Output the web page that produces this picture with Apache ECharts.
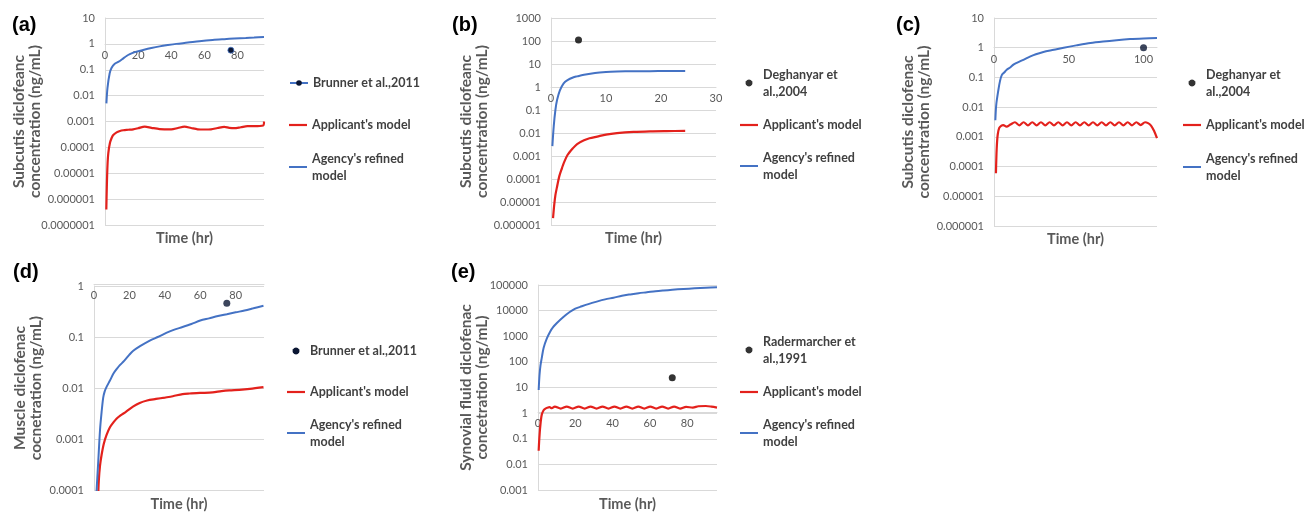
<!DOCTYPE html>
<html><head><meta charset="utf-8">
<script src="https://cdn.jsdelivr.net/npm/echarts@6/dist/echarts.min.js"></script>
<style>html,body{margin:0;padding:0;background:#fff}#c{width:1305px;height:513px}</style>
</head><body><div id="c"></div>
<script>
// ---------- DATA ([time hr, concentration ng/mL]) ----------
const aAgency = [[0.85,0.005],[1.5,0.02],[2.8,0.072],[4,0.12],[5.9,0.17],[8,0.2],[10.9,0.27],[13,0.34],[15,0.4],[18,0.48],[23,0.58],[28,0.69],[33,0.8],[38,0.9],[43,1.0],[50,1.12],[57,1.27],[65,1.42],[72,1.52],[78,1.6],[85,1.68],[90,1.75],[96,1.85]];
const aApplicant = [[0.8,4e-7],[1.1,3e-6],[1.5,2e-5],[2,6e-5],[3,0.00015],[4,0.00023],[5,0.0003],[7,0.00038],[9,0.00043],[11,0.00046],[14,0.00048],[17,0.0005],[20,0.00055],[24,0.00063],[28,0.00057],[33,0.00051],[40,0.0005],[44,0.00056],[48,0.00063],[52,0.00056],[56,0.0005],[60,0.00049],[64,0.0005],[68,0.00056],[72,0.00062],[75,0.00057],[78,0.00055],[82,0.0006],[86,0.00066],[90,0.00066],[95.5,0.0007],[96,0.001]];
const aBrunner = [[76,0.57]];

const bAgency = [[0.25,0.0027],[0.5,0.02],[0.8,0.1],[1.1,0.27],[1.6,0.7],[2.3,1.45],[3,2.0],[4,2.6],[4.75,2.9],[6,3.4],[8,4.1],[10,4.5],[12,4.7],[15,4.85],[18,4.9],[21,4.95],[24.4,4.95]];
const bApplicant = [[0.37,2e-6],[0.6,8e-6],[0.8,2e-5],[1.1,4.6e-5],[1.5,1.3e-4],[2,3e-4],[2.3,4.8e-4],[3,1.1e-3],[4,2.2e-3],[4.75,3.3e-3],[6,4.8e-3],[7,5.9e-3],[8.4,7e-3],[10,8.5e-3],[12,0.0098],[15,0.0111],[18,0.0118],[21,0.0121],[24.4,0.0123]];
const bDeghanyar = [[5,110]];

const cAgency = [[0.9,0.0036],[1.5,0.012],[2.9,0.037],[4,0.075],[5.2,0.12],[7,0.15],[8.5,0.18],[11,0.22],[13,0.27],[15.2,0.31],[20,0.4],[24,0.5],[28,0.6],[33,0.72],[40,0.85],[46.6,1.0],[55,1.2],[64.5,1.45],[73,1.63],[82,1.8],[91,1.95],[100,2.05],[109,2.12]];
const cApplicant = [[1.3,6e-5],[1.8,4e-4],[2.5,1.2e-3],[3.5,2e-3],[5,2.4e-3],[6.2,2.5e-3],[8.4,2.2e-3],[11,2.6e-3],[14,3.1e-3],[16.9,2.45e-3],[19.8,3.1e-3],[22.7,2.45e-3],[25.6,3.1e-3],[28.5,2.45e-3],[31.4,3.1e-3],[34.3,2.45e-3],[37.2,3.1e-3],[40.1,2.45e-3],[43,3.1e-3],[45.9,2.45e-3],[48.8,3.1e-3],[51.7,2.45e-3],[54.6,3.1e-3],[57.5,2.45e-3],[60.4,3.1e-3],[63.3,2.45e-3],[66.2,3.1e-3],[69.1,2.45e-3],[72,3.1e-3],[74.9,2.45e-3],[77.8,3.1e-3],[80.7,2.45e-3],[83.6,3.1e-3],[86.5,2.45e-3],[89.4,3.1e-3],[92.3,2.45e-3],[95.2,3.1e-3],[98.1,2.5e-3],[101,3.1e-3],[103,2.9e-3],[105,2.4e-3],[107,1.6e-3],[109,9e-4]];
const cDeghanyar = [[100,1.0]];

const dAgency = [[1.0,5e-5],[1.6,1.2e-4],[2.4,3.6e-4],[3.4,0.0015],[4.3,0.0034],[5.2,0.0065],[6,0.0085],[7.1,0.0105],[9,0.014],[10.9,0.019],[13,0.024],[14.6,0.028],[17,0.034],[20,0.045],[22,0.053],[26,0.066],[31.5,0.085],[36,0.1],[40.8,0.12],[45,0.138],[50,0.157],[55,0.18],[60,0.21],[65,0.232],[70,0.257],[75,0.28],[80,0.305],[85,0.33],[90,0.365],[95.7,0.41]];
const dApplicant = [[2.2,5e-5],[2.7,1.5e-4],[3.4,3e-4],[4.3,4.9e-4],[5.5,8e-4],[7.1,1.2e-3],[9,1.7e-3],[10.9,2.1e-3],[12.7,2.5e-3],[15,2.9e-3],[18,3.4e-3],[22,4.3e-3],[25.8,5.1e-3],[30,5.7e-3],[35,6.1e-3],[40,6.5e-3],[44.5,6.9e-3],[50,7.6e-3],[54,7.8e-3],[60,8.0e-3],[67,8.2e-3],[72,8.7e-3],[76.4,9.0e-3],[82,9.2e-3],[88,9.6e-3],[95.7,0.0104]];
const dBrunner = [[75,0.46]];

const eAgency = [[0.36,8],[0.8,30],[1.3,70],[2,140],[3,350],[4.7,800],[6.5,1500],[8.2,2300],[10,3200],[13.6,5600],[17,8800],[20,12000],[22.6,14000],[27,18000],[31.5,22500],[36,27500],[40.5,32000],[45,38000],[49.5,43000],[54,48000],[58.4,52000],[63,57000],[67.4,61000],[72,65000],[78,70000],[84,74000],[90,78000],[96,82000]];
const eApplicant = [[0.36,0.034],[0.7,0.1],[1.2,0.3],[2,0.86],[3,1.3],[4,1.5],[5,1.62],[6.2,1.7],[7.4,1.55],[9,1.8],[12.2,1.5],[15.4,1.8],[18.6,1.5],[21.8,1.8],[25,1.5],[28.2,1.8],[31.4,1.5],[34.6,1.8],[37.8,1.5],[41,1.8],[44.2,1.5],[47.4,1.8],[50.6,1.5],[53.8,1.8],[57,1.5],[60.2,1.8],[63.4,1.5],[66.6,1.8],[69.8,1.5],[73,1.8],[76.2,1.5],[79.4,1.75],[83,1.65],[86,1.85],[90,1.9],[93,1.8],[96,1.65]];
const eRadermarcher = [[72,24]];

// ---------- TICK LABELS ----------
const aYTicks = ['0.0000001','0.000001','0.00001','0.0001','0.001','0.01','0.1','1','10'];
const bYTicks = ['0.000001','0.00001','0.0001','0.001','0.01','0.1','1','10','100','1000'];
const cYTicks = ['0.000001','0.00001','0.0001','0.001','0.01','0.1','1','10'];
const dYTicks = ['0.0001','0.001','0.01','0.1','1'];
const eYTicks = ['0.001','0.01','0.1','1','10','100','1000','10000','100000'];

// ---------- NAMES ----------
const N_AGENCY = "Agency's refined model";
const N_APPLICANT = "Applicant's model";
const N_BRUNNER = 'Brunner et al.,2011';
const N_DEGH = 'Deghanyar et al.,2004';
const N_RADER = 'Radermarcher et al.,1991';
const legendText = {};
legendText[N_AGENCY] = "Agency's refined\nmodel";
legendText[N_APPLICANT] = "Applicant's model";
legendText[N_BRUNNER] = 'Brunner et al.,2011';
legendText[N_DEGH] = 'Deghanyar et\nal.,2004';
legendText[N_RADER] = 'Radermarcher et\nal.,1991';

// ---------- STYLE ----------
const FONT = 'Lato, "Open Sans", "DejaVu Sans", sans-serif';
const LABEL_FONT = '"Liberation Sans", Arial, sans-serif';
const TEXT = '#595959';
const LEGEND_TEXT = '#404040';
const GRID_COLOR = '#d9d9d9';
const BLUE = '#4472c4';
const RED = '#e3211c';
const LH = 17;
const RED_ICON = 'path://M0,0H18V2.2H0Z';
const BLUE_ICON = 'path://M0,0H18V2H0Z';
// small filled dot (12-gon) centred in an 18-wide box
const DOT_ICON = 'path://M0,3.5L0,3.5M18,3.5L18,3.5M12.5,3.5L12.03,5.25L10.75,6.53L9,7L7.25,6.53L5.97,5.25L5.5,3.5L5.97,1.75L7.25,0.47L9,0L10.75,0.47L12.03,1.75Z';

const panels = [
  { label:'(a)', labelPos:[12,14], grid:{left:105,top:18,width:159,height:207}, yTicks:aYTicks, xMax:96, xInterval:20, showMaxX:false,
    yName:'Subcutis diclofeanc\nconcentration (ng/mL)', yNameGap:62, xNameGap:6,
    obs:{name:N_BRUNNER, data:aBrunner, kind:'line', color:'#0b1633'}, agency:aAgency, applicant:aApplicant,
    legendLeft:289, legend:[{name:N_BRUNNER,y:83},{name:N_APPLICANT,y:125,icon:RED_ICON},{name:N_AGENCY,y:167,icon:BLUE_ICON}] },
  { label:'(b)', labelPos:[452,14], grid:{left:551,top:18,width:165,height:207}, yTicks:bYTicks, xMax:30, xInterval:10, showMaxX:true,
    yName:'Subcutis diclofeanc\nconcentration (ng/mL)', yNameGap:61, xNameGap:6,
    obs:{name:N_DEGH, data:bDeghanyar, kind:'scatter', color:'#000'}, agency:bAgency, applicant:bApplicant,
    legendLeft:740, legend:[{name:N_DEGH,y:83,icon:DOT_ICON},{name:N_APPLICANT,y:125,icon:RED_ICON},{name:N_AGENCY,y:166,icon:BLUE_ICON}] },
  { label:'(c)', labelPos:[896,14], grid:{left:994,top:18,width:163,height:208}, yTicks:cYTicks, xMax:109, xInterval:50, showMaxX:false,
    yName:'Subcutis diclofenac\nconcentration (ng/mL)', yNameGap:62, xNameGap:6,
    obs:{name:N_DEGH, data:cDeghanyar, kind:'scatter', color:'#0b1633'}, agency:cAgency, applicant:cApplicant,
    legendLeft:1183, legend:[{name:N_DEGH,y:83,icon:DOT_ICON},{name:N_APPLICANT,y:125,icon:RED_ICON},{name:N_AGENCY,y:167,icon:BLUE_ICON}] },
  { label:'(d)', labelPos:[13,261], grid:{left:94,top:286,width:170,height:206}, yTicks:dYTicks, xMax:96, xInterval:20, showMaxX:false,
    yName:'Muscle diclofenac\ncocnetration (ng/mL)', yNameGap:50, xNameGap:7,
    obs:{name:N_BRUNNER, data:dBrunner, kind:'scatter', color:'#0b1633'}, agency:dAgency, applicant:dApplicant,
    legendLeft:287, legend:[{name:N_BRUNNER,y:351,icon:DOT_ICON},{name:N_APPLICANT,y:392,icon:RED_ICON},{name:N_AGENCY,y:433,icon:BLUE_ICON}] },
  { label:'(e)', labelPos:[451,261], grid:{left:538,top:285,width:179,height:208}, yTicks:eYTicks, xMax:96, xInterval:20, showMaxX:false,
    yName:'Synovial fluid diclofenac\nconcetration (ng/mL)', yNameGap:48, xNameGap:7,
    obs:{name:N_RADER, data:eRadermarcher, kind:'scatter', color:'#000'}, agency:eAgency, applicant:eApplicant,
    legendLeft:740, legend:[{name:N_RADER,y:350,icon:DOT_ICON},{name:N_APPLICANT,y:392,icon:RED_ICON},{name:N_AGENCY,y:433,icon:BLUE_ICON}] }
];

const option = {animation:false, backgroundColor:'#fff', title:[], grid:[], xAxis:[], yAxis:[], legend:[], series:[]};

panels.forEach(function (p, i) {
  option.title.push({text:p.label, left:p.labelPos[0], top:p.labelPos[1], padding:0,
    textStyle:{fontFamily:LABEL_FONT, fontSize:20, fontWeight:'bold', color:'#000', lineHeight:22}});
  option.grid.push({left:p.grid.left, top:p.grid.top, width:p.grid.width, height:p.grid.height});
  const yMin = Number(p.yTicks[0]);
  const yMax = Number(p.yTicks[p.yTicks.length - 1]);
  const lmin = Math.log10(yMin), lmax = Math.log10(yMax);
  const offset = -p.grid.height * (0 - lmin) / (lmax - lmin);
  option.xAxis.push({gridIndex:i, type:'value', min:0, max:p.xMax, interval:p.xInterval, position:'bottom', offset:offset,
    axisLine:{show:true, lineStyle:{color:GRID_COLOR, width:1}}, axisTick:{show:false}, splitLine:{show:false},
    axisLabel:{color:TEXT, fontFamily:FONT, fontSize:11, margin:6, showMaxLabel:p.showMaxX}});
  option.xAxis.push({gridIndex:i, type:'value', min:0, max:p.xMax, position:'bottom',
    axisLine:{show:false}, axisTick:{show:false}, axisLabel:{show:false}, splitLine:{show:false},
    name:'Time (hr)', nameLocation:'middle', nameGap:p.xNameGap, nameMoveOverlap:false,
    nameTextStyle:{fontFamily:FONT, fontSize:14.5, fontWeight:'bold', color:TEXT}});
  option.yAxis.push({gridIndex:i, type:'log', logBase:10, min:yMin, max:yMax, splitNumber:10,
    axisLine:{show:true, lineStyle:{color:GRID_COLOR}}, axisTick:{show:false},
    splitLine:{show:true, lineStyle:{color:GRID_COLOR, width:1}},
    axisLabel:{color:TEXT, fontFamily:FONT, fontSize:11, margin:10,
      formatter:function (v) { return p.yTicks[Math.round(Math.log10(v) - lmin)]; }},
    name:p.yName, nameLocation:'middle', nameGap:p.yNameGap, nameRotate:90, nameMoveOverlap:false,
    nameTextStyle:{fontFamily:FONT, fontSize:15.5, fontWeight:'bold', color:TEXT, lineHeight:16}});

  const xi = 2 * i;
  option.series.push({type:'line', name:N_APPLICANT, xAxisIndex:xi, yAxisIndex:i, data:p.applicant,
    symbol:'none', smooth:0.3, lineStyle:{color:RED, width:2.2}, itemStyle:{color:RED}, z:3});
  option.series.push({type:'line', name:N_AGENCY, xAxisIndex:xi, yAxisIndex:i, data:p.agency,
    symbol:'none', smooth:0.3, lineStyle:{color:BLUE, width:2}, itemStyle:{color:BLUE}, z:3});
  if (p.obs.kind === 'line') {
    option.series.push({type:'line', name:p.obs.name, xAxisIndex:xi, yAxisIndex:i, data:p.obs.data,
      symbol:'circle', symbolSize:6, showSymbol:true, lineStyle:{color:BLUE, width:2},
      itemStyle:{color:p.obs.color, borderColor:BLUE, borderWidth:0.8}, z:5});
  } else {
    option.series.push({type:'scatter', name:p.obs.name, xAxisIndex:xi, yAxisIndex:i, data:p.obs.data,
      symbol:'circle', symbolSize:7, itemStyle:{color:p.obs.color}, z:5});
  }

  p.legend.forEach(function (it) {
    const txt = legendText[it.name];
    const two = txt.indexOf('\n') >= 0;
    const dataItem = {name:it.name, itemStyle:{borderWidth:0}};
    if (it.icon) dataItem.icon = it.icon;
    if (two) dataItem.textStyle = {padding:[LH, 0, 0, 0]};
    option.legend.push({left:p.legendLeft, top:it.y - (two ? 1.5 * LH : 0.5 * LH), orient:'vertical', padding:0,
      itemWidth:18, itemHeight:7, selectedMode:false, data:[dataItem],
      formatter:function () { return txt; },
      textStyle:{fontFamily:FONT, fontSize:12.5, fontWeight:'bold', color:LEGEND_TEXT, lineHeight:LH, backgroundColor:'rgba(255,255,255,0)'}});
  });
});

const chart = echarts.init(document.getElementById('c'));
chart.setOption(option);
</script>
</body></html>
